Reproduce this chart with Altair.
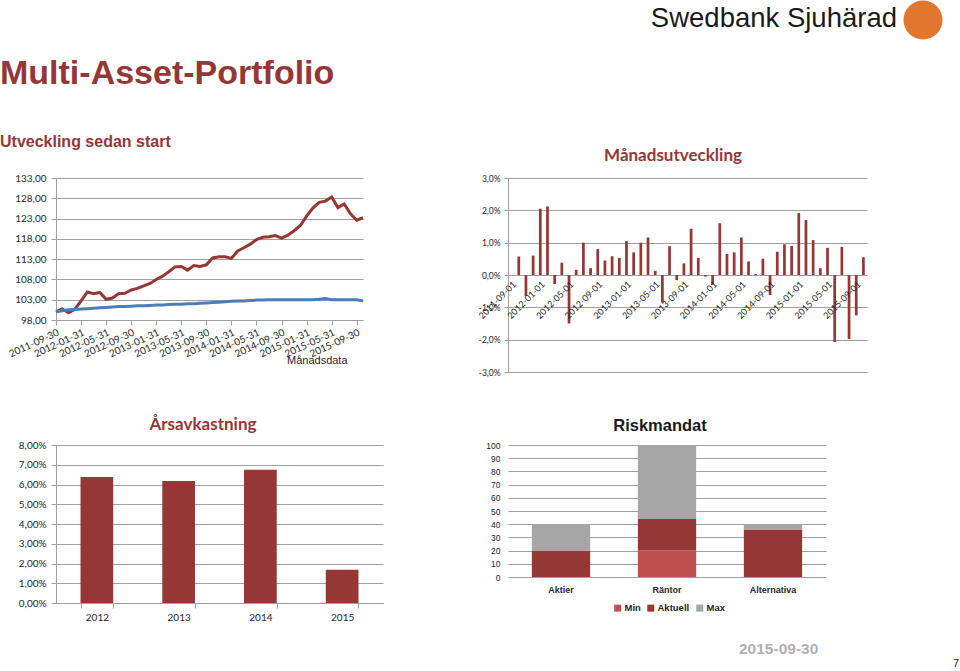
import altair as alt
import pandas as pd

RED = "#953735"
LIGHT_RED = "#C0504D"
BLUE = "#4A7EBB"
GRAY = "#A6A6A6"
GRID = "#A0A0A0"
TXT = "#262626"

# ---------------- data ----------------
# Utveckling sedan start (monthly index values, month ends from 2011-09-30)
portfolio = [100.0, 100.7, 99.8, 100.6, 102.7, 104.9, 104.5, 104.8, 103.1, 103.4,
             104.5, 104.6, 105.4, 105.8, 106.4, 107.0, 108.0, 108.8, 109.9, 111.1,
             111.2, 110.3, 111.4, 111.2, 111.6, 113.3, 113.6, 113.6, 113.2, 115.0,
             115.8, 116.7, 117.8, 118.4, 118.5, 118.8, 118.2, 118.9, 120.0, 121.3,
             123.6, 125.6, 127.0, 127.3, 128.3, 125.7, 126.6, 124.2, 122.6, 123.2]
benchmark = [100.0, 100.3, 100.5, 100.6, 100.7, 100.8, 100.9, 101.0, 101.1, 101.2,
             101.3, 101.3, 101.4, 101.5, 101.5, 101.6, 101.7, 101.7, 101.8, 101.9,
             101.9, 102.0, 102.0, 102.1, 102.2, 102.3, 102.4, 102.5, 102.6, 102.7,
             102.7, 102.8, 102.9, 102.9, 103.0, 103.0, 103.0, 103.0, 103.0, 103.0,
             103.0, 103.0, 103.1, 103.3, 103.0, 103.0, 103.0, 103.0, 103.0, 102.7]
line_ticks = ["2011-09-30", "2012-01-31", "2012-05-31", "2012-09-30", "2013-01-31",
              "2013-05-31", "2013-09-30", "2014-01-31", "2014-05-31", "2014-09-30",
              "2015-01-31", "2015-05-31", "2015-09-30"]
line_y_ticks = [98, 103, 108, 113, 118, 123, 128, 133]

# Månadsutveckling (%), months 2011-10 .. 2015-10
monthly_returns = [0.57, -0.65, 0.60, 2.05, 2.12, -0.28, 0.38, -1.50, 0.16, 1.00,
                   0.21, 0.80, 0.45, 0.58, 0.53, 1.05, 0.70, 1.00, 1.16, 0.13,
                   -0.85, 0.89, -0.16, 0.36, 1.43, 0.53, -0.05, -0.30, 1.60, 0.65,
                   0.70, 1.16, 0.42, 0.03, 0.50, -0.62, 0.72, 0.95, 0.90, 1.92,
                   1.70, 1.08, 0.21, 0.84, -2.07, 0.87, -1.98, -1.25, 0.55]
month_ticks = ["2011-09-01", "2012-01-01", "2012-05-01", "2012-09-01", "2013-01-01",
               "2013-05-01", "2013-09-01", "2014-01-01", "2014-05-01", "2014-09-01",
               "2015-01-01", "2015-05-01", "2015-09-01"]
monthly_y_ticks = [-3, -2, -1, 0, 1, 2, 3]

# Årsavkastning (%)
years = ["2012", "2013", "2014", "2015"]
annual_returns = [6.38, 6.18, 6.75, 1.68]
annual_y_ticks = [0, 1, 2, 3, 4, 5, 6, 7, 8]

# Riskmandat (stacked segments)
risk_categories = ["Aktier", "Räntor", "Alternativa"]
risk_series = ["Min", "Aktuell", "Max"]
min_seg = [0, 20, 0]
aktuell_seg = [20, 24, 36]
max_seg = [20, 56, 4]
risk_y_ticks = [0, 10, 20, 30, 40, 50, 60, 70, 80, 90, 100]

# ---------------- helpers ----------------
line_dates = list((pd.date_range("2011-10-01", periods=len(portfolio), freq="MS")
                   - pd.Timedelta(days=1)).strftime("%Y-%m-%d"))
all_months = list(pd.date_range("2011-09-01", periods=len(monthly_returns) + 1,
                                freq="MS").strftime("%Y-%m-%d"))


def label(text, x, y, size, color, font="Liberation Sans", weight="normal",
          align="left", baseline="alphabetic"):
    return alt.Chart(alt.Data(values=[{"t": text}])).mark_text(
        align=align, baseline=baseline, font=font, fontSize=size,
        fontWeight=weight, color=color,
    ).encode(text="t:N", x=alt.value(x), y=alt.value(y))


# ---------------- line chart ----------------
line_df = pd.DataFrame({
    "date": line_dates * 2,
    "serie": ["Multi-Asset-Portfolio"] * len(portfolio) + ["Jämförelse"] * len(benchmark),
    "value": portfolio + benchmark,
})
lines = alt.Chart(line_df).mark_line(strokeWidth=3).encode(
    x=alt.X("date:O", sort=None, scale=alt.Scale(type="point", padding=0),
            axis=alt.Axis(values=line_ticks, title=None, labelAngle=335,
                          labelAlign="right", labelBaseline="top", labelFont="Lato",
                          labelFontSize=10, labelColor=TXT, tickSize=5, tickColor=GRID,
                          domainColor=GRID, labelPadding=2, grid=False,
                          labelOverlap=False)),
    y=alt.Y("value:Q", scale=alt.Scale(domain=[98, 133], nice=False, zero=False),
            axis=alt.Axis(values=line_y_ticks, title=None,
                          labelExpr="replace(format(datum.value, '.2f'), '.', ',')",
                          labelFont="Lato", labelFontSize=10, labelColor=TXT,
                          grid=True, gridColor=GRID, tickSize=5, tickColor=GRID,
                          domainColor=GRID, labelPadding=5, labelOverlap=False)),
    color=alt.Color("serie:N", scale=alt.Scale(domain=["Jämförelse", "Multi-Asset-Portfolio"],
                                               range=[BLUE, RED]), legend=None),
)
line_chart = alt.layer(
    lines,
    label("Multi-Asset-Portfolio", -56, -94, 34, RED, weight="bold"),
    label("Utveckling sedan start", -56, -31, 16, RED, weight="bold"),
    label("Månadsdata", 231, 186, 11, TXT),
).properties(width=307, height=142)

# ---------------- monthly bars ----------------
mdf = pd.DataFrame({"month": all_months[1:], "value": monthly_returns})
mscale = alt.Scale(domain=all_months, paddingInner=0.62, paddingOuter=0.31)
myscale = alt.Scale(domain=[-3, 3], nice=False)
maxis = alt.Axis(values=monthly_y_ticks, title=None,
                 labelExpr="replace(replace(format(datum.value, '.1f'), '.', ','), '\u2212', '-') + '%'",
                 labelFont="Lato", labelFontSize=8.5, labelColor=TXT,
                 grid=True, gridColor=GRID, tickSize=4, tickColor=GRID,
                 domainColor=GRID, labelPadding=4, labelOverlap=False)
mbars = alt.Chart(mdf).mark_bar(color=RED).encode(
    x=alt.X("month:O", scale=mscale, axis=None),
    y=alt.Y("value:Q", scale=myscale, axis=maxis),
)
mlabels = alt.Chart(pd.DataFrame({"month": month_ticks, "value": [0] * len(month_ticks)})).mark_text(
    angle=315, align="right", baseline="middle", font="Lato", fontSize=9,
    color=TXT, xOffset=3, yOffset=8,
).encode(x=alt.X("month:O", scale=mscale, axis=None),
         y=alt.Y("value:Q", scale=myscale, axis=maxis),
         text="month:N")

monthly_chart = alt.layer(
    mbars, mlabels,
    label("Månadsutveckling", 165, -17, 17, RED, font="Lato", weight="bold", align="center"),
    label("Swedbank Sjuhärad", 389, -151, 27.5, "#1a1a1a", align="right"),
    alt.Chart(alt.Data(values=[{"t": "logo"}])).mark_point(
        shape="circle", filled=True, color="#E3762F", opacity=1, size=1520
    ).encode(x=alt.value(415), y=alt.value(-158)),
).properties(width=359, height=194)

# ---------------- annual bars ----------------
ydf = pd.DataFrame({"year": years, "ret": annual_returns})
ybars = alt.Chart(ydf).mark_bar(color=RED).encode(
    x=alt.X("year:O", scale=alt.Scale(paddingInner=0.6, paddingOuter=0.3),
            axis=alt.Axis(title=None, labelAngle=0, tickBand="extent", tickSize=5,
                          tickColor=GRID, domainColor=GRID, labelFont="Lato",
                          labelFontSize=10, labelColor=TXT, labelPadding=4)),
    y=alt.Y("ret:Q", scale=alt.Scale(domain=[0, 8], nice=False),
            axis=alt.Axis(values=annual_y_ticks, title=None,
                          labelExpr="replace(format(datum.value, '.2f'), '.', ',') + '%'",
                          labelFont="Lato", labelFontSize=10, labelColor=TXT,
                          grid=True, gridColor=GRID, tickSize=5, tickColor=GRID,
                          domainColor=GRID, labelPadding=5, labelOverlap=False)),
)
year_chart = alt.layer(
    ybars,
    label("Årsavkastning", 147, -15, 17, RED, font="Lato", weight="bold", align="center"),
).properties(width=327, height=158)

# ---------------- risk mandate ----------------
rows = []
for i, cat in enumerate(risk_categories):
    for j, (s, segs) in enumerate(zip(risk_series, [min_seg, aktuell_seg, max_seg])):
        rows.append({"kategori": cat, "serie": s, "varde": segs[i], "ord": j})
rdf = pd.DataFrame(rows)
rbars = alt.Chart(rdf).mark_bar().encode(
    x=alt.X("kategori:N", sort=risk_categories,
            scale=alt.Scale(paddingInner=0.45, paddingOuter=0.225),
            axis=alt.Axis(title=None, labelAngle=0, ticks=False, domain=False,
                          labelFont="Liberation Sans", labelFontWeight="bold",
                          labelFontSize=9, labelColor=TXT, labelPadding=8)),
    y=alt.Y("varde:Q", stack="zero", scale=alt.Scale(domain=[0, 100], nice=False),
            axis=alt.Axis(values=risk_y_ticks, title=None, ticks=False, domain=False,
                          grid=True, gridColor=GRID, labelFont="Liberation Sans",
                          labelFontSize=8.5, labelColor=TXT, labelPadding=8,
                          labelOverlap=False)),
    color=alt.Color("serie:N", scale=alt.Scale(domain=risk_series,
                                               range=[LIGHT_RED, RED, GRAY]),
                    legend=alt.Legend(orient="none", legendX=105, legendY=158,
                                      direction="horizontal", title=None,
                                      symbolType="square", symbolSize=49,
                                      symbolStrokeWidth=0, labelFont="Liberation Sans",
                                      labelFontWeight="bold", labelFontSize=9.5,
                                      labelColor=TXT, columnPadding=5, labelOffset=2)),
    order=alt.Order("ord:Q", sort="ascending"),
)
risk_chart = alt.layer(
    rbars,
    label("Riskmandat", 152, -14, 16.5, "#1a1a1a", weight="bold", align="center"),
    label("2015-09-30", 231, 209, 15.5, "#B0B0B0", weight="bold"),
    label("7", 445, 222, 11, "#1a1a1a"),
).properties(width=318, height=132)

chart = alt.concat(
    line_chart, monthly_chart, year_chart, risk_chart,
    columns=2,
    spacing=alt.RowColnumber(row=73, column=125),
    bounds="flush",
    align="none",
).resolve_scale(color="independent").properties(
    padding=0, background="white"
).configure_view(strokeWidth=0)

chart.save("out.html", embed_options={"renderer": "svg", "actions": False})
